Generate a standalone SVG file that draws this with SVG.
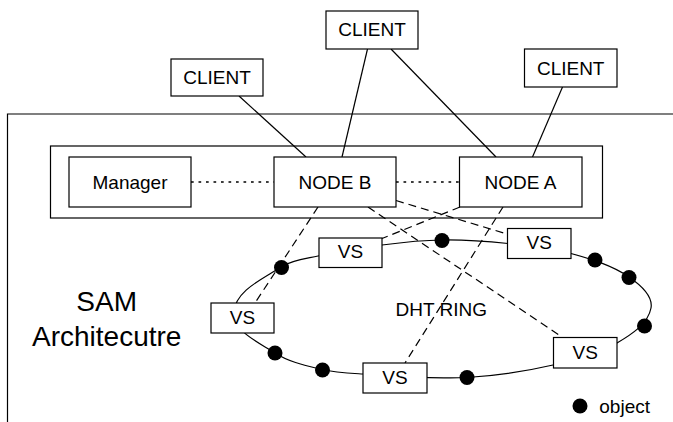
<svg xmlns="http://www.w3.org/2000/svg" width="673" height="422" viewBox="0 0 673 422">
<style>
.box{fill:#fff;stroke:#000;stroke-width:1.2}
.frame{fill:none;stroke:#000;stroke-width:1.2}
.solid{fill:none;stroke:#000;stroke-width:1.2}
.dash{fill:none;stroke:#000;stroke-width:1.2;stroke-dasharray:8 5}
.dot{fill:none;stroke:#000;stroke-width:1.3;stroke-dasharray:2.7 4.8}
.obj{fill:#000}
text{font-family:"Liberation Sans",Arial,Helvetica,sans-serif;font-size:19px;fill:#000;text-anchor:middle}
.big{font-size:28px}
</style>
<rect width="673" height="422" fill="#fff"/>
<path id="frame" class="frame" d="M7.5 422 V114 H673"/>
<rect id="cluster" class="frame" x="50.5" y="146" width="552" height="72"/>
<g id="ring">
<path class="solid" d="M442 240 C464 239.7 486.1 241.2 508 243.5 C529.2 245.7 550.5 247.8 571 253.5 C591.1 259.1 611.7 265.2 629 277 C639.5 284.2 653.3 295.5 651 308 C648.1 324 631.1 334.8 617 343 C597.5 354.4 575 359.9 553 365 C524.7 371.5 496 376.1 467 377.5 C432.3 379.1 397.6 375.9 363 374 C349.3 373.2 335.3 372.7 322 369.5 C305.9 365.6 288.9 362.1 275 353 C258.8 342.4 232.7 331.3 234 312 C235.5 290.4 262.9 279 281 267 C291.7 259.8 305.4 258.7 318 256 C339.1 251.4 360.6 247.8 382 245 C401.9 242.4 421.9 240.2 442 240 Z"/>
<circle class="obj" cx="281.5" cy="267.5" r="7.5"/>
<circle class="obj" cx="442" cy="240.5" r="7.5"/>
<circle class="obj" cx="595" cy="260" r="7.5"/>
<circle class="obj" cx="629" cy="277.5" r="7.5"/>
<circle class="obj" cx="644.5" cy="326" r="7.5"/>
<circle class="obj" cx="467" cy="377.5" r="7.5"/>
<circle class="obj" cx="322.5" cy="370" r="7.5"/>
<circle class="obj" cx="275" cy="353" r="7.5"/>
</g>
<g id="connectors">
<line class="solid" x1="239" y1="96" x2="306" y2="157"/>
<line class="solid" x1="367.5" y1="49" x2="342" y2="157"/>
<line class="solid" x1="391" y1="49" x2="496" y2="157"/>
<line class="solid" x1="562.5" y1="87" x2="532.5" y2="157"/>
<line class="dot" x1="191" y1="182" x2="274" y2="182"/>
<line class="dot" x1="396" y1="182" x2="459" y2="182"/>
<line class="dash" x1="318" y1="207" x2="255" y2="303"/>
<line class="dash" x1="396" y1="200.5" x2="507" y2="234"/>
<line class="dash" x1="368" y1="207" x2="562" y2="337"/>
<line class="dash" x1="460" y1="207" x2="382" y2="238.5"/>
<line class="dash" x1="503" y1="207" x2="405" y2="363"/>
</g>
<g id="client-left"><rect class="box" x="171" y="59" width="92" height="37"/><text x="217" y="83.5">CLIENT</text></g>
<g id="client-top"><rect class="box" x="326" y="11" width="92" height="38"/><text x="372" y="36">CLIENT</text></g>
<g id="client-right"><rect class="box" x="524.5" y="49" width="92.5" height="38"/><text x="570.7" y="75">CLIENT</text></g>
<g id="manager"><rect class="box" x="69" y="157" width="122" height="50"/><text x="130" y="188.5">Manager</text></g>
<g id="node-b"><rect class="box" x="274" y="157" width="122" height="50"/><text x="335" y="188.5">NODE B</text></g>
<g id="node-a"><rect class="box" x="459.5" y="157" width="122.5" height="50"/><text x="520.5" y="188.5">NODE A</text></g>
<g id="vs1"><rect class="box" x="319" y="238" width="63" height="29.5"/><text x="350.5" y="257.5">VS</text></g>
<g id="vs2"><rect class="box" x="507.5" y="228.5" width="63.5" height="30"/><text x="539.2" y="248.5">VS</text></g>
<g id="vs3"><rect class="box" x="211" y="303" width="63" height="30"/><text x="242.5" y="323.5">VS</text></g>
<g id="vs4"><rect class="box" x="363" y="363" width="64" height="30"/><text x="395" y="383.5">VS</text></g>
<g id="vs5"><rect class="box" x="553.5" y="337.5" width="63.5" height="30.5"/><text x="585.2" y="358.5">VS</text></g>
<text id="ring-label" x="441.3" y="316">DHT RING</text>
<g id="title"><text class="big" x="106.7" y="311">SAM</text><text class="big" x="106.7" y="346">Architecutre</text></g>
<g id="legend"><circle class="obj" cx="580" cy="406" r="7.5"/><text x="599.3" y="412.5" style="text-anchor:start">object</text></g>
</svg>
